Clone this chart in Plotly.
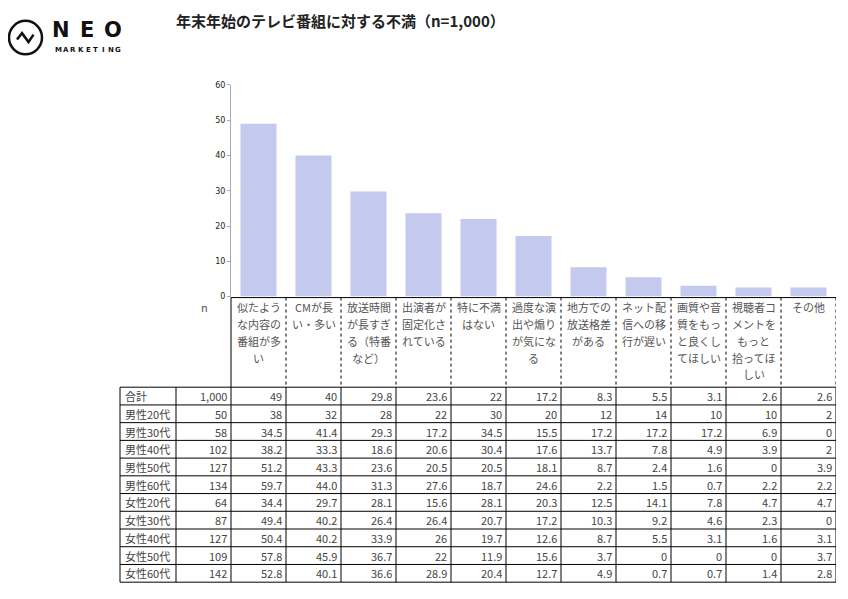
import plotly.graph_objects as go

# ---------------- data ----------------
title_text = "年末年始のテレビ番組に対する不満（n=1,000）"
categories = [
    ["似たよう", "な内容の", "番組が多", "い"],
    ["CMが長", "い・多い"],
    ["放送時間", "が長すぎ", "る（特番", "など）"],
    ["出演者が", "固定化さ", "れている"],
    ["特に不満", "はない"],
    ["過度な演", "出や煽り", "が気にな", "る"],
    ["地方での", "放送格差", "がある"],
    ["ネット配", "信への移", "行が遅い"],
    ["画質や音", "質をもっ", "と良くし", "てほしい"],
    ["視聴者コ", "メントを", "もっと", "拾ってほ", "しい"],
    ["その他"],
]
groups = ["合計", "男性20代", "男性30代", "男性40代", "男性50代", "男性60代",
          "女性20代", "女性30代", "女性40代", "女性50代", "女性60代"]
n_values = ["1,000", "50", "58", "102", "127", "134", "64", "87", "127", "109", "142"]
row_total = ["49", "40", "29.8", "23.6", "22", "17.2", "8.3", "5.5", "3.1", "2.6", "2.6"]
row_m20 = ["38", "32", "28", "22", "30", "20", "12", "14", "10", "10", "2"]
row_m30 = ["34.5", "41.4", "29.3", "17.2", "34.5", "15.5", "17.2", "17.2", "17.2", "6.9", "0"]
row_m40 = ["38.2", "33.3", "18.6", "20.6", "30.4", "17.6", "13.7", "7.8", "4.9", "3.9", "2"]
row_m50 = ["51.2", "43.3", "23.6", "20.5", "20.5", "18.1", "8.7", "2.4", "1.6", "0", "3.9"]
row_m60 = ["59.7", "44.0", "31.3", "27.6", "18.7", "24.6", "2.2", "1.5", "0.7", "2.2", "2.2"]
row_f20 = ["34.4", "29.7", "28.1", "15.6", "28.1", "20.3", "12.5", "14.1", "7.8", "4.7", "4.7"]
row_f30 = ["49.4", "40.2", "26.4", "26.4", "20.7", "17.2", "10.3", "9.2", "4.6", "2.3", "0"]
row_f40 = ["50.4", "40.2", "33.9", "26", "19.7", "12.6", "8.7", "5.5", "3.1", "1.6", "3.1"]
row_f50 = ["57.8", "45.9", "36.7", "22", "11.9", "15.6", "3.7", "0", "0", "0", "3.7"]
row_f60 = ["52.8", "40.1", "36.6", "28.9", "20.4", "12.7", "4.9", "0.7", "0.7", "1.4", "2.8"]
rows = [row_total, row_m20, row_m30, row_m40, row_m50, row_m60,
        row_f20, row_f30, row_f40, row_f50, row_f60]
y_ticks = [0, 10, 20, 30, 40, 50, 60]

# ---------------- layout constants (pixels in the 848x599 window) ----------------
OFF = 8                    # default page body margin
W, H = 848 - OFF, 599 - OFF
X0, X1 = 231, 836          # category area
Y_TOP, Y_ZERO = 82, 297    # value axis
HDR_BOT = 389              # bottom of header cells / top of table
ROW_H = 18
LBL_X0, N_X0 = 120, 176
BAR_COLOR = "#c4caee"
TXT = "#444444"
JP = "Noto Sans CJK JP"

fx = lambda p: (p - OFF) / W
fy = lambda p: 1 - (p - OFF) / H

ncat = len(categories)
xs = list(range(ncat))
fig = go.Figure()
fig.add_trace(go.Bar(x=xs, y=[float(v) for v in row_total], marker_color=BAR_COLOR,
                     marker_line_width=0, hoverinfo="skip"))

shapes = []
ann = []

# header grid
shapes.append(dict(type="line", xref="paper", yref="paper", x0=fx(X0), x1=fx(X1),
                   y0=fy(Y_ZERO + 1), y1=fy(Y_ZERO + 1), line=dict(color="#000", width=1)))
shapes.append(dict(type="line", xref="paper", yref="paper", x0=fx(X0), x1=fx(X0),
                   y0=fy(Y_ZERO + 1), y1=fy(HDR_BOT), line=dict(color="#000", width=1)))
for i in range(ncat):
    shapes.append(dict(type="line", xref="x", yref="paper", x0=i + 0.5, x1=i + 0.5,
                       y0=fy(Y_ZERO + 1), y1=fy(HDR_BOT),
                       line=dict(color="#000", width=1, dash="dot")))
# header texts
for i, lines in enumerate(categories):
    for k, t in enumerate(lines):
        ann.append(dict(x=i, y=fy(308 + 17 * k), xref="x", yref="paper", text=t,
                        showarrow=False, xanchor="center", yanchor="middle",
                        font=dict(family=JP, size=11, color="#555")))
ann.append(dict(x=fx(204), y=fy(308), xref="paper", yref="paper", text="n", showarrow=False,
                xanchor="center", yanchor="middle", font=dict(family=JP, size=11, color="#555")))

# table
nrows = len(groups)
T_BOT = HDR_BOT + ROW_H * nrows
for r in range(nrows + 1):
    yy = HDR_BOT + ROW_H * r
    shapes.append(dict(type="line", xref="paper", yref="paper", x0=fx(LBL_X0), x1=fx(X1),
                       y0=fy(yy), y1=fy(yy), line=dict(color="#000", width=1)))
for xv in [LBL_X0, N_X0, X0]:
    shapes.append(dict(type="line", xref="paper", yref="paper", x0=fx(xv), x1=fx(xv),
                       y0=fy(HDR_BOT), y1=fy(T_BOT), line=dict(color="#000", width=1)))
for i in range(ncat):
    shapes.append(dict(type="line", xref="x", yref="paper", x0=i + 0.5, x1=i + 0.5,
                       y0=fy(HDR_BOT), y1=fy(T_BOT), line=dict(color="#000", width=1)))
for r, g in enumerate(groups):
    yc = fy(HDR_BOT + ROW_H * r + ROW_H / 2)
    ann.append(dict(x=fx(LBL_X0 + 3), y=yc, xref="paper", yref="paper", text=g, showarrow=False,
                    xanchor="left", yanchor="middle", font=dict(family=JP, size=11, color=TXT)))
    ann.append(dict(x=fx(X0 - 2), y=yc, xref="paper", yref="paper", text=n_values[r],
                    showarrow=False, xanchor="right", yanchor="middle",
                    font=dict(family=JP, size=11, color=TXT)))
    for i, v in enumerate(rows[r]):
        ann.append(dict(x=i + 0.47, y=yc, xref="x", yref="paper", text=v, showarrow=False,
                        xanchor="right", yanchor="middle",
                        font=dict(family=JP, size=11, color=TXT)))

# title
ann.append(dict(x=fx(174), y=fy(17), xref="paper", yref="paper", text="<b>" + title_text + "</b>",
                showarrow=False, xanchor="left", yanchor="middle",
                font=dict(family=JP, size=15, color="#222")))

# logo
shapes.append(dict(type="circle", xref="paper", yref="paper", x0=fx(9), x1=fx(42),
                   y0=fy(17), y1=fy(51), line=dict(color="#111", width=2.5)))
zig = [(17, 36), (22, 29.5), (28.5, 38.5), (33.5, 31)]
path = "M " + " L ".join(f"{fx(a)},{fy(b)}" for a, b in zig)
shapes.append(dict(type="path", xref="paper", yref="paper", path=path,
                   line=dict(color="#111", width=2.5)))
for k, ch in enumerate("NEO"):
    ann.append(dict(x=fx(61 + 26 * k), y=fy(26), xref="paper", yref="paper", text="<b>" + ch + "</b>",
                    showarrow=False, xanchor="center", yanchor="middle",
                    font=dict(family="DejaVu Sans", size=21, color="#111")))
for k, ch in enumerate("MARKETING"):
    ann.append(dict(x=fx(58 + 7.5 * k), y=fy(46.5), xref="paper", yref="paper", text="<b>" + ch + "</b>",
                    showarrow=False, xanchor="center", yanchor="middle",
                    font=dict(family="DejaVu Sans", size=7, color="#111")))

fig.update_layout(
    width=W, height=H, margin=dict(l=0, r=0, t=0, b=0),
    paper_bgcolor="white", plot_bgcolor="white", showlegend=False,
    bargap=0.345, shapes=shapes, annotations=ann,
    xaxis=dict(domain=[fx(X0), fx(X1)], range=[-0.5, ncat - 0.5], showticklabels=False,
               showgrid=False, zeroline=False, showline=False, ticks=""),
    yaxis=dict(domain=[fy(Y_ZERO), fy(Y_TOP)], range=[0, 60], tickvals=y_ticks,
               showgrid=False, zeroline=False, showline=True, linecolor="#aaaaaa", linewidth=1,
               ticks="outside", ticklen=3, tickcolor="#aaaaaa",
               tickfont=dict(family="DejaVu Sans", size=8, color="#222"),
               ),
)
fig.write_html("out.html")
